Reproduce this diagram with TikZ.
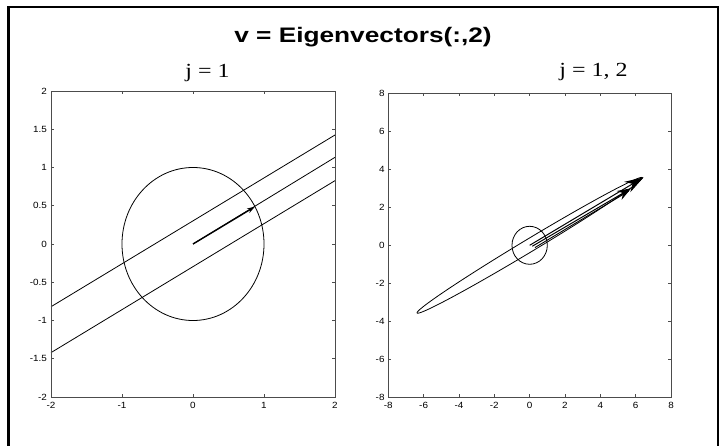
\documentclass[tikz,border=0pt]{standalone}
\usepackage{fontspec}
\setmainfont{Liberation Serif}
\setsansfont{Liberation Sans}
\usetikzlibrary{arrows.meta}
\tikzset{
  axbox/.style={draw=black!70, line width=0.8pt},
  tickmark/.style={draw=black!70, line width=0.6pt},
  curve/.style={draw=black, line width=0.8pt},
  ticklab/.style={font=\sffamily\fontsize{9}{10}\selectfont, inner sep=0pt, xscale=1.1},
  frameline/.style={draw=black, line width=2.2pt},
}
\begin{document}
\begin{tikzpicture}[x=1pt,y=1pt]
\useasboundingbox (0,0) rectangle (721,-446);
\fill[white] (0,0) rectangle (721,-446);
\draw[frameline] (8.5,-460) -- (8.5,-7) -- (718,-7) -- (718,-460);

% titles
\node[font=\sffamily\bfseries\fontsize{21}{24}\selectfont, xscale=1.25, anchor=base, inner sep=0pt] (title) at (363,-43) {v = Eigenvectors(:,2)};
\node[font=\fontsize{20}{23}\selectfont, xscale=1.2, anchor=base, inner sep=0pt] (tleft) at (207.5,-77.5) {j = 1};
\node[font=\fontsize{20}{23}\selectfont, xscale=1.2, anchor=base, inner sep=0pt] (tright) at (593.5,-76.5) {j = 1, 2};

% ---------------- left axes ----------------
\begin{scope}[shift={(193pt,-244pt)}, x={(71pt,0pt)}, y={(0pt,76.5pt)}]
  \foreach \t in {-1,0,1} {
    \draw[tickmark] (\t,-2) -- ++(0,0.04);
    \draw[tickmark] (\t,2) -- ++(0,-0.04);
  }
  \foreach \t in {-1.5,-1,-0.5,0,0.5,1,1.5} {
    \draw[tickmark] (-2,\t) -- ++(0.04,0);
    \draw[tickmark] (2,\t) -- ++(-0.04,0);
  }
  \foreach \t/\l in {-2/-2,-1/-1,0/0,1/1,2/2}
    \node[ticklab, anchor=north] (lx\l) at (\t,-2.07) {\l};
  \foreach \t/\l in {-2/-2,-1.5/-1.5,-1/-1,-0.5/-0.5,0/0,0.5/0.5,1/1,1.5/1.5,2/2}
    \node[ticklab, anchor=east] (ly\l) at (-2.055,\t) {\l};
  \draw[curve] (0,0) circle [radius=1];
  \draw[curve] (-2,-0.82) -- (2,1.425);
  \draw[curve] (-2,-1.42) -- (2,0.828);
  \draw[curve] (0,0) -- (2,1.133);
  \draw[line width=1.4pt, -{Stealth[length=8pt,width=5pt]}] (0,0) -- (0.873,0.488);
  \draw[axbox] (-2,-2) rectangle (2,2);
\end{scope}

% ---------------- right axes ----------------
\begin{scope}[shift={(529.65pt,-245.3pt)}, x={(17.67pt,0pt)}, y={(0pt,19pt)}]
  \foreach \t in {-6,-4,-2,0,2,4,6} {
    \draw[tickmark] (\t,-8) -- ++(0,0.16);
    \draw[tickmark] (\t,8) -- ++(0,-0.16);
    \draw[tickmark] (-8,\t) -- ++(0.17,0);
    \draw[tickmark] (8,\t) -- ++(-0.17,0);
  }
  \foreach \t in {-8,-6,-4,-2,0,2,4,6,8} {
    \node[ticklab, anchor=north] (rx\t) at (\t,-8.25) {\t};
    \node[ticklab, anchor=east] (ry\t) at (-8.2,\t) {\t};
  }
  \draw[curve] (0,0) circle [radius=1];
  \draw[curve, smooth, samples=120, domain=0:360, variable=\a]
    plot ({7.3*cos(\a)*0.873 - 0.34*sin(\a)*0.488}, {7.3*cos(\a)*0.488 + 0.34*sin(\a)*0.873}) -- cycle;
  \draw[line width=0.9pt] (0.3,-0.12) -- (5.6,2.85);
  \draw[line width=1pt, -{Stealth[length=14pt,width=10pt]}] (0.15,-0.05) -- (5.75,3.0);
  \draw[line width=1pt, -{Stealth[length=19pt,width=12pt]}] (0,0) -- (6.45,3.58);
  \draw[axbox] (-8,-8) rectangle (8,8);
\end{scope}
\end{tikzpicture}
\end{document}
